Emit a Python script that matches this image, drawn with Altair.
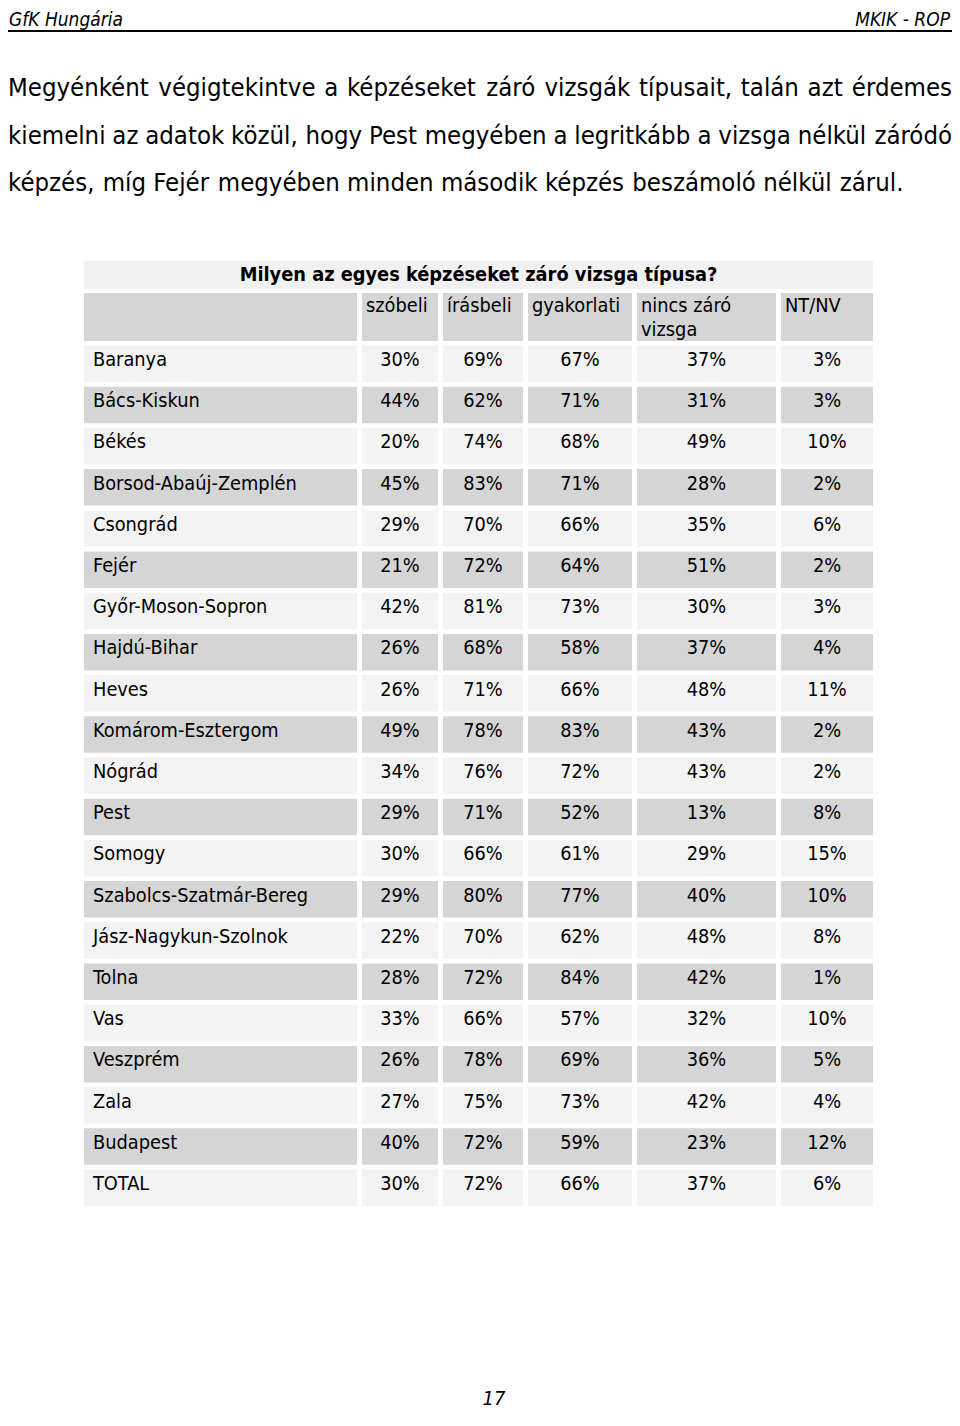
import altair as alt
import pandas as pd

# ---------------- data ----------------
counties = ["Baranya", "Bács-Kiskun", "Békés", "Borsod-Abaúj-Zemplén", "Csongrád", "Fejér",
            "Győr-Moson-Sopron", "Hajdú-Bihar", "Heves", "Komárom-Esztergom", "Nógrád", "Pest",
            "Somogy", "Szabolcs-Szatmár-Bereg", "Jász-Nagykun-Szolnok", "Tolna", "Vas",
            "Veszprém", "Zala", "Budapest", "TOTAL"]
szobeli = [30, 44, 20, 45, 29, 21, 42, 26, 26, 49, 34, 29, 30, 29, 22, 28, 33, 26, 27, 40, 30]
irasbeli = [69, 62, 74, 83, 70, 72, 81, 68, 71, 78, 76, 71, 66, 80, 70, 72, 66, 78, 75, 72, 72]
gyakorlati = [67, 71, 68, 71, 66, 64, 73, 58, 66, 83, 72, 52, 61, 77, 62, 84, 57, 69, 73, 59, 66]
nincs_zaro = [37, 31, 49, 28, 35, 51, 30, 37, 48, 43, 43, 13, 29, 40, 48, 42, 32, 36, 42, 23, 37]
nt_nv = [3, 3, 10, 2, 6, 2, 3, 4, 11, 2, 2, 8, 15, 10, 8, 1, 10, 5, 4, 12, 6]
col_headers = [["szóbeli"], ["írásbeli"], ["gyakorlati"], ["nincs záró", "vizsga"], ["NT/NV"]]
table_title = "Milyen az egyes képzéseket záró vizsga típusa?"
body_lines = [
    "Megyénként végigtekintve a képzéseket záró vizsgák típusait, talán azt érdemes",
    "kiemelni az adatok közül, hogy Pest megyében a legritkább a vizsga nélkül záródó",
    "képzés, míg Fejér megyében minden második képzés beszámoló nélkül zárul.",
]
header_left = "GfK Hungária"
header_right = "MKIK - ROP"
page_number = "17"

# ---------------- layout / style ----------------
FONT = "DejaVu Sans Condensed, DejaVu Sans"
COND = 0.9
GRAY = "#d5d5d5"
LIGHT = "#f3f3f3"
TITLE_BG = "#f1f1f1"
COL_EDGES = [(84, 357), (362, 438), (443, 523), (528, 632), (637, 776), (781, 873)]
ROW0, PITCH, CELL_H, TXT_OFF = 345.5, 41.2, 36.5, 14.5
BODY_SIZE, TABLE_SIZE = 25.5, 19.8
BODY_Y = [88, 135.5, 183]
BODY_LEFT, BODY_RIGHT = 8, 952
PAGE_L, PAGE_R, PAGE_T, PAGE_B = 8, 952, 8, 1414

# DejaVu Sans advance widths (em)
W = {' ': .318, ',': .318, '.': .318, '?': .531, '-': .361, 'M': .863, 'P': .603, 'F': .575,
     'a': .613, 'b': .635, 'c': .55, 'd': .635, 'e': .615, 'f': .352, 'g': .635, 'h': .634,
     'i': .278, 'j': .278, 'k': .579, 'l': .278, 'm': .974, 'n': .634, 'o': .612, 'p': .635,
     'r': .411, 's': .521, 't': .392, 'u': .634, 'v': .592, 'w': .818, 'y': .592, 'z': .525,
     'é': .615, 'á': .613, 'í': .278, 'ó': .612, 'ö': .612, 'ü': .634, 'ú': .634, 'ő': .612}


def text_w(s, size):
    return sum(W.get(c, .6) for c in s) * size * COND


X = alt.Scale(domain=[PAGE_L, PAGE_R], nice=False, zero=False)
Y = alt.Scale(domain=[PAGE_T, PAGE_B], nice=False, zero=False, reverse=True)


def xq(f):
    return alt.X(f, type="quantitative", scale=X, axis=None)


def yq(f):
    return alt.Y(f, type="quantitative", scale=Y, axis=None)


# ---------------- page header ----------------
hdr = pd.DataFrame({"t": [header_left], "x": [9], "y": [10.5]})
hdr_r = pd.DataFrame({"t": [header_right], "x": [950], "y": [10.5]})
hdr_line = pd.DataFrame({"x": [8], "x2": [952], "y": [31]})

l_hdr = alt.Chart(hdr).mark_text(align="left", baseline="top", font=FONT, fontSize=19,
                                 fontStyle="italic", color="#000").encode(x=xq("x"), y=yq("y"), text="t:N")
l_hdr_r = alt.Chart(hdr_r).mark_text(align="right", baseline="top", font=FONT, fontSize=19,
                                     fontStyle="italic", color="#000").encode(x=xq("x"), y=yq("y"), text="t:N")
l_line = alt.Chart(hdr_line).mark_rule(color="#000", strokeWidth=2).encode(
    x=xq("x"), x2="x2:Q", y=yq("y"))

# ---------------- body text (justified) ----------------
words_left, words_right = [], []
for li, line in enumerate(body_lines):
    ws = line.split(" ")
    if li == len(body_lines) - 1:
        pos = BODY_LEFT
        for w in ws:
            words_left.append({"t": w, "x": pos, "y": BODY_Y[li]})
            pos += text_w(w + " ", BODY_SIZE)
    else:
        widths = [text_w(w, BODY_SIZE) for w in ws]
        gap = (BODY_RIGHT - BODY_LEFT - sum(widths)) / (len(ws) - 1)
        pos = BODY_LEFT
        for k, w in enumerate(ws):
            if k == len(ws) - 1:
                words_right.append({"t": w, "x": BODY_RIGHT, "y": BODY_Y[li]})
            else:
                words_left.append({"t": w, "x": pos, "y": BODY_Y[li]})
            pos += widths[k] + gap

l_body = alt.Chart(pd.DataFrame(words_left)).mark_text(
    align="left", baseline="middle", font=FONT, fontSize=BODY_SIZE, color="#000").encode(
    x=xq("x"), y=yq("y"), text="t:N")
l_body_r = alt.Chart(pd.DataFrame(words_right)).mark_text(
    align="right", baseline="middle", font=FONT, fontSize=BODY_SIZE, color="#000").encode(
    x=xq("x"), y=yq("y"), text="t:N")

# ---------------- table ----------------
title_bg = pd.DataFrame({"x": [84], "x2": [873], "y": [261], "y2": [289]})
title_txt = pd.DataFrame({"t": [table_title], "x": [(84 + 873) / 2], "y": [275]})
l_title_bg = alt.Chart(title_bg).mark_rect(color=TITLE_BG).encode(
    x=xq("x"), x2="x2:Q", y=yq("y"), y2="y2:Q")
l_title = alt.Chart(title_txt).mark_text(align="center", baseline="middle", font=FONT,
                                         fontSize=19.8, fontWeight="bold", color="#000").encode(
    x=xq("x"), y=yq("y"), text="t:N")

head_cells = pd.DataFrame([{"x": a, "x2": b, "y": 293, "y2": 341} for a, b in COL_EDGES])
l_head_cells = alt.Chart(head_cells).mark_rect(color=GRAY).encode(
    x=xq("x"), x2="x2:Q", y=yq("y"), y2="y2:Q")
head_txt = []
for j, lines in enumerate(col_headers):
    for k, s in enumerate(lines):
        head_txt.append({"t": s, "x": COL_EDGES[j + 1][0] + 4, "y": 306 + k * 23.5})
l_head_txt = alt.Chart(pd.DataFrame(head_txt)).mark_text(
    align="left", baseline="middle", font=FONT, fontSize=TABLE_SIZE, color="#000").encode(
    x=xq("x"), y=yq("y"), text="t:N")

columns = [szobeli, irasbeli, gyakorlati, nincs_zaro, nt_nv]
cells, labels, values = [], [], []
for i, c in enumerate(counties):
    top = ROW0 + i * PITCH
    fill = LIGHT if i % 2 == 0 else GRAY
    for a, b in COL_EDGES:
        cells.append({"x": a, "x2": b, "y": top, "y2": top + CELL_H, "fill": fill})
    labels.append({"t": c, "x": COL_EDGES[0][0] + 9, "y": top + TXT_OFF})
    for j, col in enumerate(columns):
        a, b = COL_EDGES[j + 1]
        values.append({"t": f"{col[i]}%", "x": (a + b) / 2, "y": top + TXT_OFF})

l_cells = alt.Chart(pd.DataFrame(cells)).mark_rect().encode(
    x=xq("x"), x2="x2:Q", y=yq("y"), y2="y2:Q", color=alt.Color("fill:N", scale=None))
l_labels = alt.Chart(pd.DataFrame(labels)).mark_text(
    align="left", baseline="middle", font=FONT, fontSize=TABLE_SIZE, color="#000").encode(
    x=xq("x"), y=yq("y"), text="t:N")
l_values = alt.Chart(pd.DataFrame(values)).mark_text(
    align="center", baseline="middle", font=FONT, fontSize=TABLE_SIZE, color="#000").encode(
    x=xq("x"), y=yq("y"), text="t:N")

# ---------------- page number ----------------
pn = pd.DataFrame({"t": [page_number], "x": [494], "y": [1399]})
l_pn = alt.Chart(pn).mark_text(align="center", baseline="middle", font=FONT, fontSize=20,
                               fontStyle="italic", color="#000").encode(x=xq("x"), y=yq("y"), text="t:N")

chart = alt.layer(
    l_hdr, l_hdr_r, l_line, l_body, l_body_r,
    l_title_bg, l_title, l_head_cells, l_head_txt,
    l_cells, l_labels, l_values, l_pn,
).properties(
    width=PAGE_R - PAGE_L, height=PAGE_B - PAGE_T, padding=0, background="white",
    autosize=alt.AutoSizeParams(type="none"),
).configure_view(stroke=None)

chart.save("out.html", embed_options={"renderer": "svg", "actions": False})
